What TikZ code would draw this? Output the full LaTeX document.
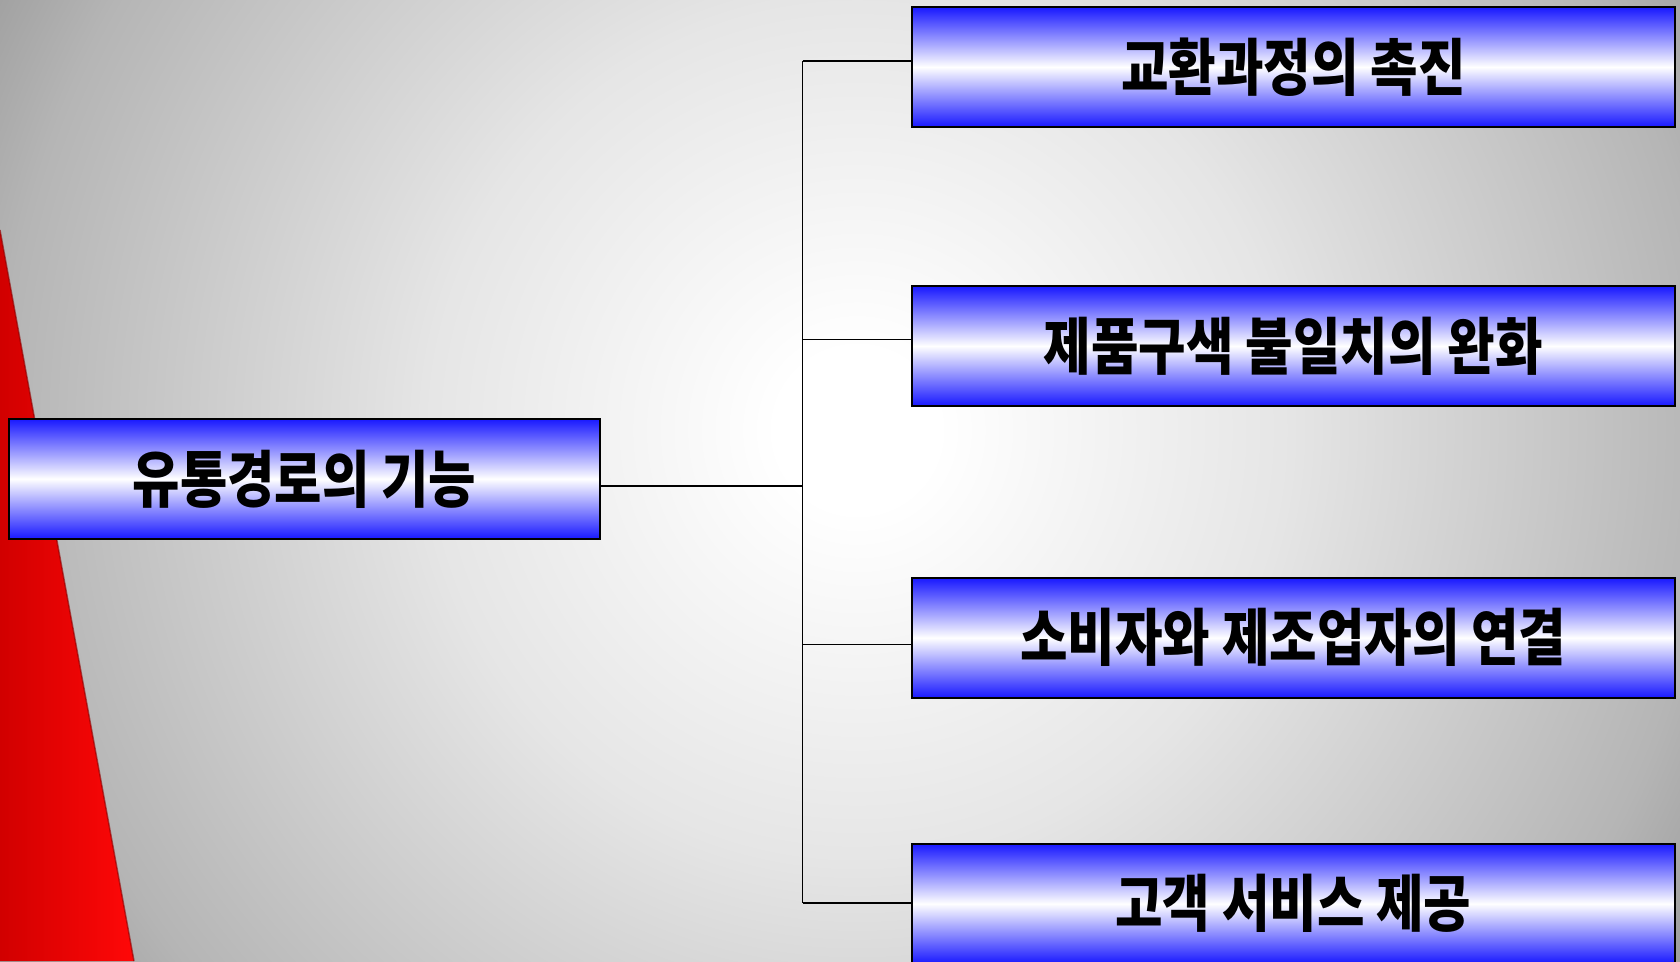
\documentclass[tikz,border=0pt]{standalone}
\usepackage{fontspec}
\usepackage{graphicx}
\newfontfamily\krfont{Noto Sans CJK KR}[UprightFont=* Black, BoldFont=* Black]
\pgfdeclareradialshading{bgshade}{\pgfpoint{0bp}{0bp}}{color(0bp)=(white); color(2bp)=(white); color(10.75bp)=(black!10); color(21.4bp)=(black!29); color(24.5bp)=(black!38); color(25bp)=(black!39); color(50bp)=(black!39)}
\definecolor{boxblue}{RGB}{25,25,255}
\tikzset{
  fbox/.style={draw=black, line width=2pt, inner sep=0pt, top color=boxblue, bottom color=boxblue, middle color=white, minimum width=763pt, minimum height=119.5pt},
  rootbox/.style={fbox, minimum width=591.4pt, minimum height=119.7pt},
  conn/.style={draw=black, line width=1.6pt}
}
\newcommand\boxtxt[1]{\krfont\fontsize{62}{64}\selectfont\scalebox{0.833}[1]{#1}}
\newcommand\roottxt[1]{\krfont\fontsize{62}{64}\selectfont\scalebox{0.83}[1]{#1}}
\begin{document}
\begin{tikzpicture}[x=1pt,y=-1pt]
\useasboundingbox (0,0) rectangle (1680,961);
\begin{scope}
\clip (0,0) rectangle (1680,961);
\shade[shading=bgshade] (-143,-570) rectangle (1857,1430);
\shade[left color=red!82!black, right color=red!97!white] (0,230) -- (134,961) -- (0,961) -- cycle;
\draw[red!55!black, line width=1.5pt, opacity=0.6] (0,230) -- (134,961);
\end{scope}
\node[rootbox] (root) at (304.3,478.85) {\roottxt{유통경로의 기능}};
\node[fbox] (b1) at (1293.3,67) {\boxtxt{교환과정의 촉진}};
\node[fbox] (b2) at (1293.3,346) {\boxtxt{제품구색 불일치의 완화}};
\node[fbox] (b3) at (1293.3,637.8) {\boxtxt{소비자와 제조업자의 연결}};
\node[fbox] (b4) at (1293.3,903.75) {\boxtxt{고객 서비스 제공}};
\coordinate (jt) at (802.5,60.7);
\coordinate (jb) at (802.5,902.7);
\draw[conn] (jt) -- (jb);
\draw[conn] ([yshift=-6.85pt]root.east) -- ([yshift=-6.85pt]root.east -| jt);
\draw[conn] ([yshift=6.3pt]b1.west) -- ([yshift=6.3pt]b1.west -| jt);
\draw[conn] ([yshift=6.7pt]b2.west) -- ([yshift=6.7pt]b2.west -| jt);
\draw[conn] ([yshift=-6.5pt]b3.west) -- ([yshift=-6.5pt]b3.west -| jt);
\draw[conn] ([yshift=1pt]b4.west) -- ([yshift=1pt]b4.west -| jt);
\end{tikzpicture}
\end{document}
